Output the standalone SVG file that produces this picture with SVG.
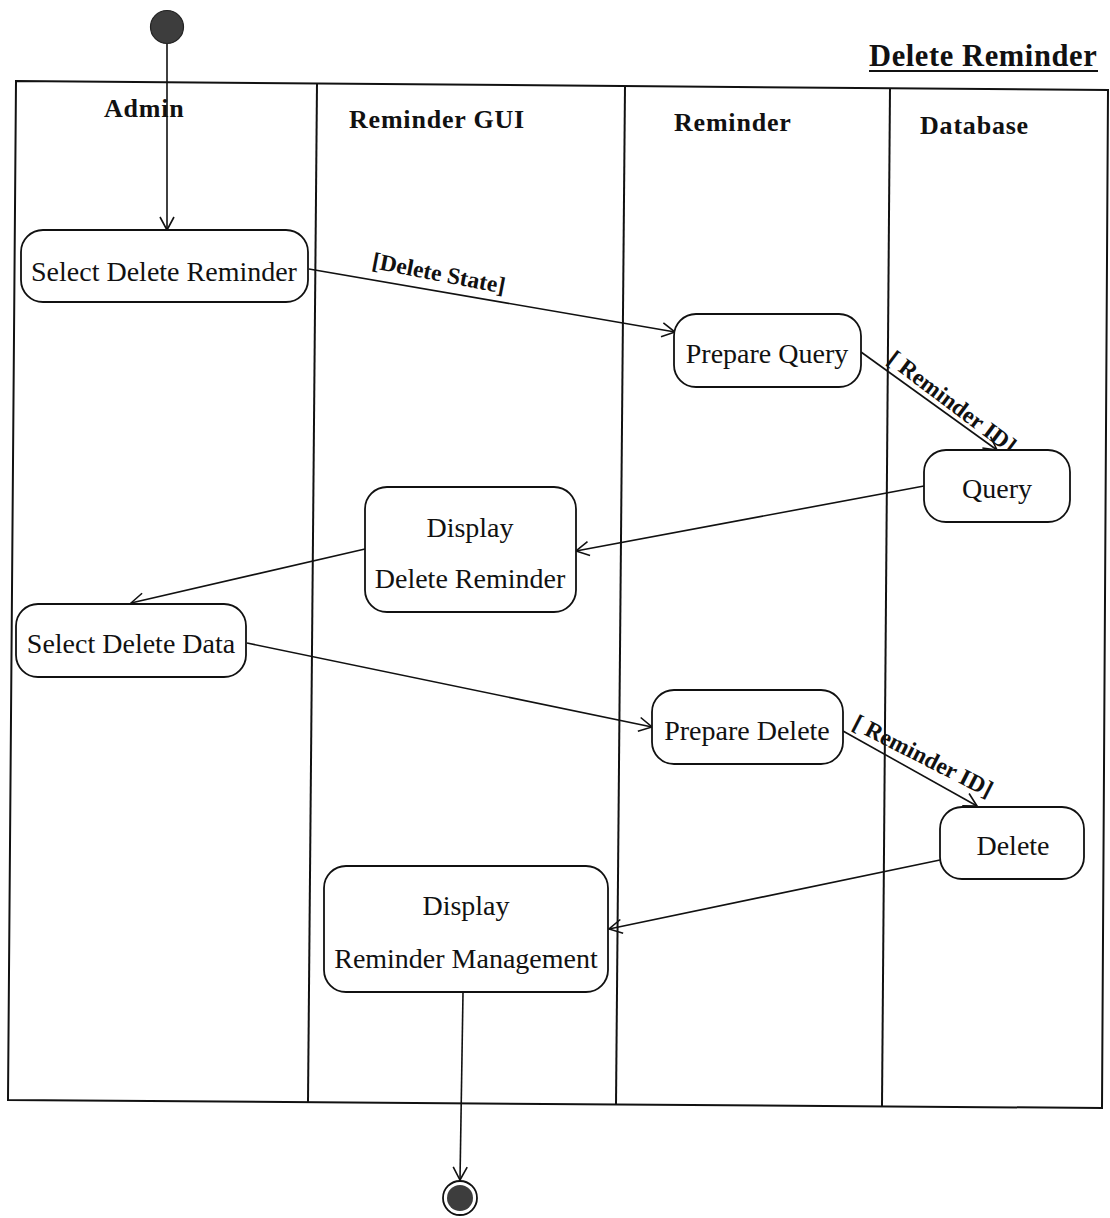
<svg xmlns="http://www.w3.org/2000/svg" width="1110" height="1218" viewBox="0 0 1110 1218">
  <style>
    .lane { stroke: #111; stroke-width: 2; fill: none; }
    .node rect { fill: #fff; stroke: #111; stroke-width: 1.8; }
    .node text { font-family: "Liberation Serif", "Times New Roman", serif; font-size: 28px; fill: #111; text-anchor: middle; }
    .head { font-family: "Liberation Serif", "Times New Roman", serif; font-size: 26px; font-weight: bold; fill: #111; letter-spacing: 0.8px; }
    .title { font-family: "Liberation Serif", "Times New Roman", serif; font-size: 30.5px; font-weight: bold; fill: #111; letter-spacing: 0.6px; }
    .guard { font-family: "Liberation Serif", "Times New Roman", serif; font-size: 23.5px; font-weight: bold; fill: #111; }
    .edge { stroke: #111; stroke-width: 1.6; fill: none; marker-end: url(#open); }
  </style>
  <defs>
    <marker id="open" markerUnits="userSpaceOnUse" markerWidth="20" markerHeight="20" viewBox="-15 -10 20 20" refX="0" refY="0" orient="auto">
      <path d="M -13 -7 L 0 0 L -13 7" fill="none" stroke="#111" stroke-width="1.6"/>
    </marker>
  </defs>
  <rect width="1110" height="1218" fill="#fff"/>

  <!-- title -->
  <g id="title">
    <text class="title" x="869" y="66">Delete Reminder</text>
    <line x1="869" y1="71" x2="1098" y2="71" stroke="#111" stroke-width="2"/>
  </g>

  <!-- swimlane frame -->
  <g id="lanes">
    <polygon class="lane" points="16,81 1108,90 1102,1108 8,1100"/>
    <line class="lane" x1="317" y1="83" x2="308" y2="1102"/>
    <line class="lane" x1="625" y1="86" x2="616" y2="1104"/>
    <line class="lane" x1="890" y1="88" x2="882" y2="1106"/>
    <text class="head" x="104" y="117">Admin</text>
    <text class="head" x="349" y="128">Reminder GUI</text>
    <text class="head" x="674" y="131">Reminder</text>
    <text class="head" x="920" y="134">Database</text>
  </g>

  <!-- connectors -->
  <g id="connectors">
    <line class="edge" x1="167" y1="44" x2="167" y2="230"/>
    <line class="edge" x1="309" y1="269" x2="675" y2="332"/>
    <line class="edge" x1="861" y1="352" x2="997" y2="450"/>
    <line class="edge" x1="924" y1="486" x2="576" y2="551"/>
    <line class="edge" x1="365" y1="549" x2="131" y2="603"/>
    <line class="edge" x1="247" y1="643" x2="652" y2="727"/>
    <line class="edge" x1="843" y1="731" x2="977" y2="806"/>
    <line class="edge" x1="940" y1="860" x2="609" y2="929"/>
    <line class="edge" x1="463" y1="993" x2="460" y2="1180"/>
    <text class="guard" transform="translate(371,268) rotate(11)">[Delete State]</text>
    <text class="guard" transform="translate(886,362) rotate(37)">[ Reminder ID]</text>
    <text class="guard" transform="translate(851,728) rotate(27)">[ Reminder ID]</text>
  </g>

  <!-- start / end -->
  <g id="start">
    <circle cx="167" cy="27" r="16.5" fill="#3d3d3d" stroke="#222" stroke-width="1.2"/>
  </g>
  <g id="end">
    <circle cx="460" cy="1198" r="17" fill="#fff" stroke="#111" stroke-width="1.8"/>
    <circle cx="460" cy="1198" r="13" fill="#3d3d3d"/>
  </g>

  <!-- activities -->
  <g id="select-delete-reminder" class="node">
    <rect x="21" y="230" width="287" height="72" rx="22"/>
    <text x="164" y="281">Select Delete Reminder</text>
  </g>
  <g id="prepare-query" class="node">
    <rect x="674" y="314" width="187" height="73" rx="22"/>
    <text x="767" y="363">Prepare Query</text>
  </g>
  <g id="query" class="node">
    <rect x="924" y="450" width="146" height="72" rx="22"/>
    <text x="997" y="498">Query</text>
  </g>
  <g id="display-delete-reminder" class="node">
    <rect x="365" y="487" width="211" height="125" rx="22"/>
    <text x="470" y="537">Display</text>
    <text x="470" y="588">Delete Reminder</text>
  </g>
  <g id="select-delete-data" class="node">
    <rect x="16" y="604" width="230" height="73" rx="22"/>
    <text x="131" y="653">Select Delete Data</text>
  </g>
  <g id="prepare-delete" class="node">
    <rect x="652" y="690" width="191" height="74" rx="22"/>
    <text x="747" y="740">Prepare Delete</text>
  </g>
  <g id="delete" class="node">
    <rect x="940" y="807" width="144" height="72" rx="22"/>
    <text x="1013" y="855">Delete</text>
  </g>
  <g id="display-reminder-management" class="node">
    <rect x="324" y="866" width="284" height="126" rx="22"/>
    <text x="466" y="915">Display</text>
    <text x="466" y="968">Reminder Management</text>
  </g>
</svg>
